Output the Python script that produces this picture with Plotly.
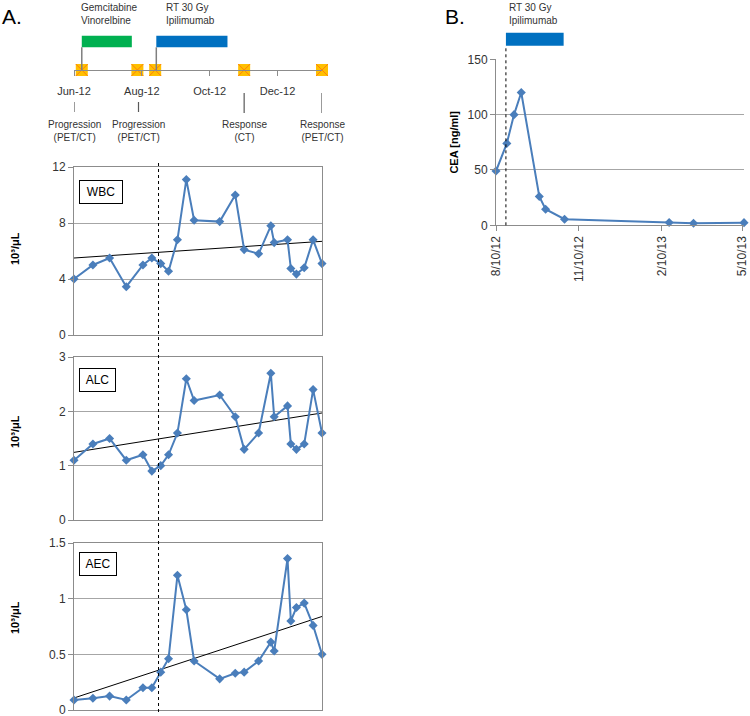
import plotly.graph_objects as go

W, H = 750, 716
FONT = "Liberation Sans"
BLUE = "#4A7EBB"
GRID = "#A6A6A6"
AXC = "#8C8C8C"

# ---------------- data ----------------
# timeline (panel A top)
event_dates = ["2012-05-31", "2012-06-08", "2012-07-28", "2012-08-13", "2012-11-01", "2013-01-10"]
scan_dates = ["2012-06-01", "2012-07-29", "2012-11-01", "2013-01-10"]
scan_labels = ["Progression<br>(PET/CT)", "Progression<br>(PET/CT)", "Response<br>(CT)", "Response<br>(PET/CT)"]
treat_names = ["Gemcitabine<br>Vinorelbine", "RT 30 Gy<br>Ipilimumab"]
treat_start = ["2012-06-08", "2012-08-14"]
treat_end = ["2012-07-23", "2012-10-17"]
treat_colors = ["#00B050", "#0070C0"]
month_ticks = ["2012-06-01", "2012-08-01", "2012-10-01", "2012-12-01"]
month_labels = ["Jun-12", "Aug-12", "Oct-12", "Dec-12"]
rt_start_A = "2012-08-16"

# blood counts
dates = ["2012-06-01", "2012-06-18", "2012-07-03", "2012-07-18", "2012-08-02", "2012-08-10",
         "2012-08-18", "2012-08-25", "2012-09-02", "2012-09-10", "2012-09-17", "2012-10-10",
         "2012-10-24", "2012-11-01", "2012-11-14", "2012-11-25", "2012-11-28", "2012-12-10",
         "2012-12-13", "2012-12-18", "2012-12-25", "2013-01-02", "2013-01-10"]
wbc = [4.0, 5.0, 5.5, 3.45, 5.0, 5.5, 5.1, 4.55, 6.8, 11.1, 8.2, 8.1, 10.0, 6.1, 5.8, 7.8,
       6.6, 6.8, 4.75, 4.35, 4.8, 6.8, 5.1]
alc = [1.1, 1.4, 1.5, 1.1, 1.2, 0.9, 1.0, 1.2, 1.6, 2.6, 2.2, 2.3, 1.9, 1.3, 1.6, 2.7,
       1.9, 2.1, 1.4, 1.3, 1.4, 2.4, 1.6]
aec = [0.09, 0.105, 0.125, 0.09, 0.2, 0.2, 0.34, 0.46, 1.21, 0.9, 0.44, 0.28, 0.33, 0.34,
       0.44, 0.61, 0.53, 1.36, 0.8, 0.92, 0.96, 0.76, 0.5]
wbc_trend = [5.5, 6.69]
alc_trend = [1.245, 1.97]
aec_trend = [0.108, 0.84]

# CEA (panel B)
cea_dates = ["2012-08-10", "2012-08-22", "2012-08-30", "2012-09-07", "2012-09-27", "2012-10-04",
             "2012-10-25", "2013-02-18", "2013-03-17", "2013-05-12"]
cea = [49, 74, 100, 120, 26, 14.5, 5.5, 2.5, 1.8, 2.4]
cea_ticks = ["2012-08-10", "2012-11-10", "2013-02-10", "2013-05-10"]
cea_tick_labels = ["8/10/12", "11/10/12", "2/10/13", "5/10/13"]
rt_start_B = "2012-08-21"
rt_end_B = "2012-10-24"
rangeA = ["2012-06-01", "2013-01-10"]
rangeB = ["2012-08-10", "2013-05-12"]


def px(x):
    return x / W


def py(y):
    return 1 - y / H


fig = go.Figure()

# timeline markers
fig.add_trace(go.Scatter(x=event_dates, y=[0] * len(event_dates), mode="markers",
                         marker=dict(symbol="square", size=12, color="#FFC000"),
                         cliponaxis=False, xaxis="x", yaxis="y", showlegend=False))
fig.add_trace(go.Scatter(x=event_dates, y=[0] * len(event_dates), mode="markers",
                         marker=dict(symbol="x-thin-open", size=12, line=dict(color="#8A8A8A", width=1)),
                         cliponaxis=False, xaxis="x", yaxis="y", showlegend=False))

# lab panels
panels = [("x2", "y2", wbc, wbc_trend), ("x3", "y3", alc, alc_trend), ("x4", "y4", aec, aec_trend)]
for xa, ya, vals, tr in panels:
    fig.add_trace(go.Scatter(x=[dates[0], dates[-1]], y=tr, mode="lines",
                             line=dict(color="black", width=1), xaxis=xa, yaxis=ya,
                             showlegend=False, cliponaxis=False))
    fig.add_trace(go.Scatter(x=dates, y=vals, mode="lines+markers",
                             line=dict(color=BLUE, width=2),
                             marker=dict(symbol="diamond", size=7, color=BLUE),
                             xaxis=xa, yaxis=ya, showlegend=False, cliponaxis=False))

fig.add_trace(go.Scatter(x=cea_dates, y=cea, mode="lines+markers",
                         line=dict(color=BLUE, width=2),
                         marker=dict(symbol="diamond", size=7, color=BLUE),
                         xaxis="x5", yaxis="y5", showlegend=False, cliponaxis=False))

shapes = []
annotations = []
# treatment bars (A)
for name, s, e, c, dx in zip(treat_names, treat_start, treat_end, treat_colors, [-3, 8]):
    shapes.append(dict(type="rect", xref="x", yref="paper", x0=s, x1=e, y0=py(47.3), y1=py(35.7),
                       fillcolor=c, line=dict(width=0)))
    shapes.append(dict(type="line", xref="x", yref="paper", x0=s, x1=s, y0=py(70), y1=py(47.3),
                       line=dict(color="#7F7F7F", width=1.5)))
    annotations.append(dict(text=name, xref="x", yref="paper", x=s, y=1, xanchor="left",
                            yanchor="top", xshift=dx, showarrow=False, align="left",
                            font=dict(family=FONT, size=10, color="#333")))
# scan labels
for d, lab, tall in zip(scan_dates, scan_labels, [False, False, True, True]):
    shapes.append(dict(type="line", xref="x", yref="paper", x0=d, x1=d,
                       y0=py(113 if tall else 112), y1=py(93 if tall else 102),
                       line=dict(color="#595959", width=1.2)))
    annotations.append(dict(text=lab, xref="x", yref="paper", x=d, y=py(117), xanchor="center",
                            yanchor="top", showarrow=False, align="center",
                            font=dict(family=FONT, size=10, color="#333")))
# dashed RT line A
shapes.append(dict(type="line", xref="x2", yref="paper", x0=rt_start_A, x1=rt_start_A,
                   y0=py(712), y1=py(163), line=dict(color="black", width=1, dash="3px,3px")))
# B bar and dashed line
shapes.append(dict(type="rect", xref="x5", yref="paper", x0=rt_start_B, x1=rt_end_B,
                   y0=py(45.7), y1=py(32.7), fillcolor="#0070C0", line=dict(width=0)))
shapes.append(dict(type="line", xref="x5", yref="paper", x0=rt_start_B, x1=rt_start_B,
                   y0=py(225.3), y1=py(45.7), line=dict(color="black", width=1, dash="3px,3px")))
annotations.append(dict(text="RT 30 Gy<br>Ipilimumab", xref="x5", yref="paper", x=rt_start_B, y=1,
                        xanchor="left", yanchor="top", xshift=1, showarrow=False, align="left",
                        font=dict(family=FONT, size=10, color="#333")))

# panel labels
annotations.append(dict(text="A.", xref="paper", yref="paper", x=0, y=py(3), xanchor="left",
                        yanchor="top", showarrow=False, font=dict(family=FONT, size=21, color="black")))
annotations.append(dict(text="B.", xref="paper", yref="paper", x=px(443), y=py(3), xanchor="left",
                        yanchor="top", showarrow=False, font=dict(family=FONT, size=21, color="black")))

# name boxes
for txt, ytop, wd in [("WBC", 180, 40), ("ALC", 367.7, 33), ("AEC", 552.3, 34)]:
    annotations.append(dict(text=txt, xref="paper", yref="paper", x=px(78.7), y=py(ytop),
                            xanchor="left", yanchor="top", showarrow=False, width=wd, height=20,
                            bordercolor="black", borderwidth=1, borderpad=1, bgcolor="white",
                            font=dict(family=FONT, size=12, color="black")))
# y titles A
for yc in [249, 432, 618]:
    annotations.append(dict(text="<b>10³/μL</b>", xref="paper", yref="paper", x=px(15), y=py(yc),
                            xanchor="center", yanchor="middle", textangle=-90, showarrow=False,
                            font=dict(family=FONT, size=11, color="black")))

xdomA = [px(74), px(322)]
common_x = dict(type="date", range=rangeA, showgrid=False, showline=True, mirror=True,
                linecolor=AXC, linewidth=1, showticklabels=False, ticks="", zeroline=False,
                automargin=False)
common_y = dict(showgrid=True, gridcolor=GRID, gridwidth=1, showline=True, mirror=True,
                linecolor=AXC, linewidth=1, ticks="outside", ticklen=5, tickcolor=AXC,
                zeroline=False, tickfont=dict(family=FONT, size=12, color="#333"),
                automargin=False, ticklabeloverflow="allow")

fig.update_layout(
    template="none",
    width=W, height=H, margin=dict(l=0, r=0, t=0, b=0, pad=0, autoexpand=False),
    paper_bgcolor="white", plot_bgcolor="white",
    font=dict(family=FONT, color="#333"),
    xaxis=dict(domain=xdomA, type="date", range=rangeA, anchor="y", showgrid=False,
               showline=True, linecolor=AXC, linewidth=1.2, ticks="outside", ticklen=5,
               tickcolor=AXC, tickvals=month_ticks, ticktext=month_labels,
               ticklabelstandoff=6, tickfont=dict(family=FONT, size=11, color="#333"),
               zeroline=False, automargin=False),
    yaxis=dict(domain=[py(70), 1], range=[0, 1], visible=False, automargin=False),
    xaxis2=dict(domain=xdomA, anchor="y2", **common_x),
    yaxis2=dict(domain=[py(335), py(167)], anchor="x2", range=[0, 12], dtick=4, **common_y),
    xaxis3=dict(domain=xdomA, anchor="y3", **common_x),
    yaxis3=dict(domain=[py(520), py(357)], anchor="x3", range=[0, 3], dtick=1, **common_y),
    xaxis4=dict(domain=xdomA, anchor="y4", **common_x),
    yaxis4=dict(domain=[py(710), py(543)], anchor="x4", range=[0, 1.5], dtick=0.5, **common_y),
    xaxis5=dict(domain=[px(496), px(744)], anchor="y5", type="date", range=rangeB, showgrid=False,
                showline=True, linecolor=AXC, linewidth=1, ticks="outside", ticklen=5,
                tickcolor=AXC, tickvals=cea_ticks, ticktext=cea_tick_labels, tickangle=-90,
                tickfont=dict(family=FONT, size=12, color="#333"), zeroline=False,
                automargin=False),
    yaxis5=dict(domain=[py(225.3), py(59.3)], anchor="x5", range=[0, 150], dtick=50,
                showgrid=True, gridcolor=GRID, showline=True, linecolor=AXC, linewidth=1,
                ticks="outside", ticklen=5, tickcolor=AXC, zeroline=False, automargin=False,
                tickfont=dict(family=FONT, size=12, color="#333"),
                title=dict(text="<b>CEA [ng/ml]</b>", font=dict(family=FONT, size=11, color="black"),
                           standoff=6)),
    shapes=shapes, annotations=annotations,
)

fig.write_html("out.html", config={"displayModeBar": False},
               post_script="document.body.style.margin='0';document.body.style.overflow='hidden';")
